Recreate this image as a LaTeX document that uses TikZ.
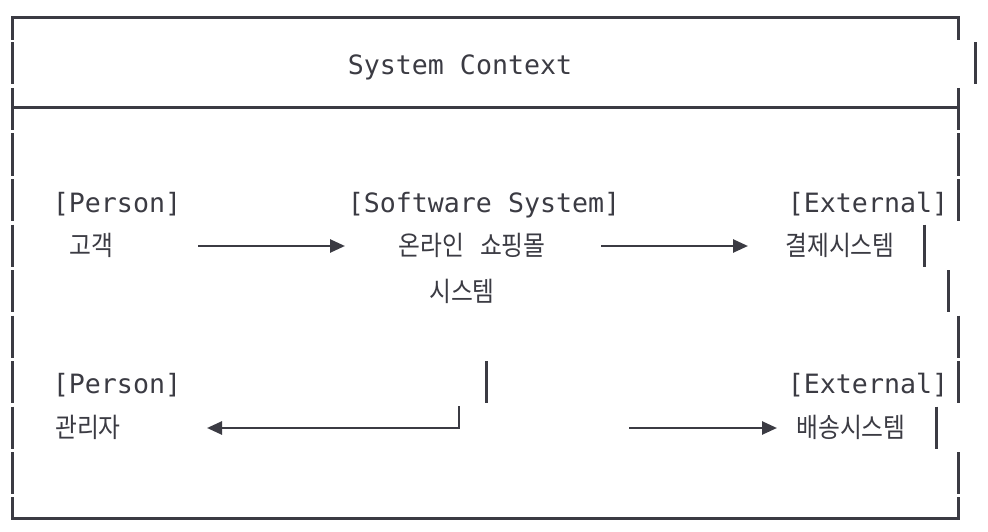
\documentclass[tikz,border=0pt]{standalone}
\usepackage{fontspec}
\setmainfont{DejaVu Sans Mono}
\newfontfamily\kofont{Noto Sans CJK KR}[FakeStretch=0.88]
\usetikzlibrary{arrows.meta}
\definecolor{ink}{HTML}{3B3B43}

\begin{document}
\begin{tikzpicture}[x=1pt, y=-1pt, >={Triangle[length=15pt, width=13pt]},
  bar/.style={ink, line width=3pt},
  flow/.style={->, ink, line width=2.6pt},
  mono/.style={ink, inner sep=0pt, anchor=base, font=\fontsize{26.6}{30}\selectfont},
  hangul/.style={ink, inner sep=0pt, anchor=base, font=\fontsize{27}{30}\selectfont\kofont}]
\useasboundingbox (0,0) rectangle (988,532);
% frame
\draw[bar] (12,40) -- (12,18) -- (958,18) -- (958,40);
\draw[bar] (12,108) -- (958,108);
\draw[bar] (12,497) -- (12,518) -- (958,518) -- (958,497);
\foreach \r in {1,...,10}
  \draw[bar] (12,{18+45.5*\r-21}) -- (12,{18+45.5*\r+21});
\foreach \r/\x in {1/975, 2/958, 3/958, 4/958, 5/924, 6/948, 7/958, 8/958, 9/936, 10/958}
  \draw[bar] (\x,{18+45.5*\r-21}) -- (\x,{18+45.5*\r+21});
\draw[bar] (486,{18+45.5*8-21}) -- (486,{18+45.5*8+21});
% labels
\node[mono] (title) at (460,75) {System Context};
\node[mono] (custtype) at (117,212.5) {[Person]};
\node[mono] (shoptype) at (484,212.5) {[Software System]};
\node[mono] (paytype) at (868,212.5) {[External]};
\node[hangul] (cust) at (91,255.5) {고객};
\node[hangul] (shop) at (472,255.5) {온라인\hspace{0.6em}쇼핑몰};
\node[hangul] (shopb) at (462,301) {시스템};
\node[hangul] (pay) at (840,255.5) {결제시스템};
\node[mono] (admintype) at (117,393) {[Person]};
\node[mono] (shiptype) at (868,393) {[External]};
\node[hangul] (admin) at (88,437.5) {관리자};
\node[hangul] (ship) at (851,437.5) {배송시스템};
% connectors
\coordinate (custout) at (198,246);
\coordinate (shopin) at (345,246);
\coordinate (shopout) at (601,246);
\coordinate (payin) at (748,246);
\coordinate (adminfrom) at (459,406);
\coordinate (adminin) at (207,428);
\coordinate (shipout) at (629,428);
\coordinate (shipin) at (777,428);
\draw[flow] (custout) -- (shopin);
\draw[flow] (shopout) -- (payin);
\draw[flow] (adminfrom) |- (adminin);
\draw[flow] (shipout) -- (shipin);
\end{tikzpicture}
\end{document}
